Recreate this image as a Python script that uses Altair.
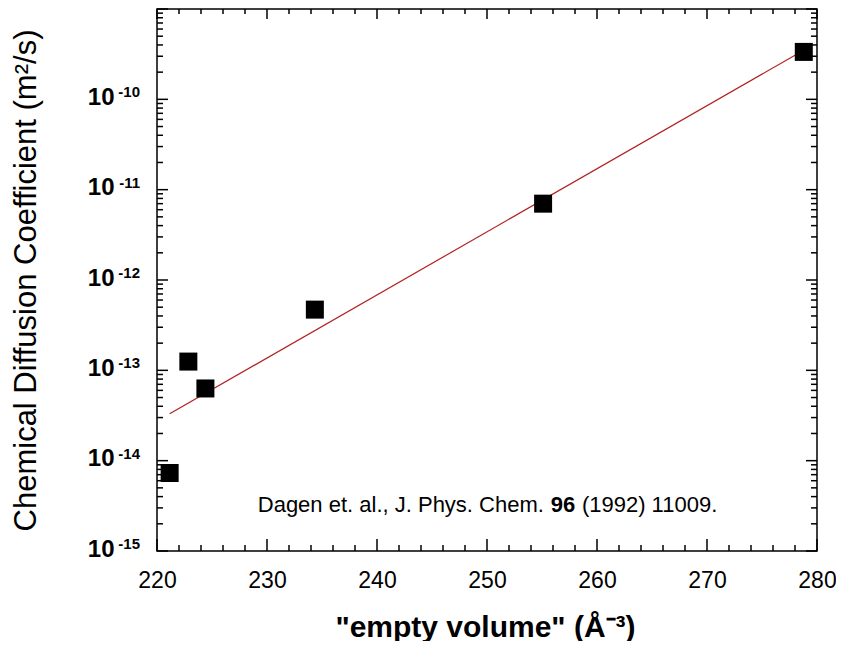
import altair as alt
import pandas as pd

# measured data
volume = [221.15, 222.85, 224.4, 234.35, 255.1, 278.8]
diffusion = [7.3e-15, 1.25e-13, 6.3e-14, 4.7e-13, 7.0e-12, 3.35e-10]

# fitted line endpoints
fit_volume = [221.15, 278.8]
fit_diffusion = [3.3e-14, 3.5e-10]

# axis ticks / labels
x_major = [220, 230, 240, 250, 260, 270, 280]
x_minor = [v for v in range(222, 280, 2) if v % 10 != 0]
decades = [-15, -14, -13, -12, -11, -10, -9]
y_major = [10.0 ** d for d in decades]
y_minor = [m * 10.0 ** d for d in decades[:-1] for m in range(2, 10)]
label_decades = [-15, -14, -13, -12, -11, -10]
label_values = [10.0 ** d for d in label_decades]
exponent_text = ["-15", "-14", "-13", "-12", "-11", "-10"]

# annotation
note_parts = ["Dagen et. al., J. Phys. Chem.", "96", "(1992) 11009."]
note_x = 256.9
note_y = 2.7e-15

FONT = "Liberation Sans"
XS = alt.Scale(domain=[220, 280], nice=False, zero=False)
YS = alt.Scale(type="log", domain=[1e-15, 1e-9], nice=False)

XA = alt.Axis(values=x_major, ticks=False, domain=False, grid=False,
              labelFontSize=23, labelPadding=18, labelColor="black", format="d",
              labelFlush=False, labelFont=FONT, titleFont=FONT,
              title='"empty volume" (Å⁻³)', titleFontSize=30, titleFontWeight="bold",
              titleColor="black", titleX=328, titleY=76, titleBaseline="middle",
              titleAlign="center")
YA = alt.Axis(values=label_values, labelExpr="'10'", ticks=False,
              domain=False, grid=False, labelFontSize=24, labelFontWeight="bold",
              labelPadding=43, labelOffset=-2, labelColor="black", labelFlush=False,
              labelFont=FONT, titleFont=FONT,
              title="Chemical Diffusion Coefficient (m²/s)", titleFontSize=31,
              titleFontWeight="normal", titleColor="black", titleX=-131, titleY=271,
              titleAngle=-90, titleBaseline="middle", titleAlign="center")


def X(field):
    return alt.X(field, type="quantitative", scale=XS, axis=XA)


def Y(field):
    return alt.Y(field, type="quantitative", scale=YS, axis=YA)


pts = pd.DataFrame({"volume": volume, "diffusion": diffusion})
fit = pd.DataFrame({"volume": fit_volume, "diffusion": fit_diffusion})

line = alt.Chart(fit).mark_line(color="#b22222", strokeWidth=1.2).encode(
    x=X("volume"), y=Y("diffusion"))

points = alt.Chart(pts).mark_square(size=324, color="black", filled=True, opacity=1).encode(
    x=X("volume"), y=Y("diffusion"))

exp_df = pd.DataFrame({"v": label_values, "e": exponent_text, "edge": [220] * len(label_values)})
exps = alt.Chart(exp_df).mark_text(
    align="right", baseline="middle", dx=-17, dy=-7, fontSize=15, fontWeight="bold",
    color="black", font=FONT
).encode(y=Y("v"), x=X("edge"), text="e:N")

note_df = pd.DataFrame({"x": [note_x], "y": [note_y]})
note1 = alt.Chart(note_df).mark_text(
    text=note_parts[0], align="right", baseline="alphabetic", dx=-19, fontSize=22,
    color="black", font=FONT
).encode(x=X("x"), y=Y("y"))
note2 = alt.Chart(note_df).mark_text(
    text=note_parts[1], align="center", baseline="alphabetic", fontSize=22, fontWeight="bold",
    color="black", font=FONT
).encode(x=X("x"), y=Y("y"))
note3 = alt.Chart(note_df).mark_text(
    text=note_parts[2], align="left", baseline="alphabetic", dx=19, fontSize=22,
    color="black", font=FONT
).encode(x=X("x"), y=Y("y"))

# inward tick marks drawn as stroked custom symbols (path length = sqrt(size)/2)
UP, DOWN, RIGHT, LEFT = "M0,0L0,-1", "M0,0L0,1", "M0,0L1,0", "M0,0L-1,0"


def edge_ticks(xs, ys, shape, length):
    df = pd.DataFrame({"volume": xs, "diffusion": ys})
    return alt.Chart(df).mark_point(
        shape=shape, size=(2 * length) ** 2, filled=False, color="black",
        strokeWidth=1.5, opacity=1
    ).encode(x=X("volume"), y=Y("diffusion"))


ticks = [
    edge_ticks(x_major, [1e-15] * len(x_major), UP, 12),
    edge_ticks(x_minor, [1e-15] * len(x_minor), UP, 6),
    edge_ticks(x_major, [1e-9] * len(x_major), DOWN, 10),
    edge_ticks(x_minor, [1e-9] * len(x_minor), DOWN, 5),
    edge_ticks([220] * len(y_major), y_major, RIGHT, 11),
    edge_ticks([220] * len(y_minor), y_minor, RIGHT, 6),
    edge_ticks([280] * len(y_major), y_major, LEFT, 11),
    edge_ticks([280] * len(y_minor), y_minor, LEFT, 6),
]

chart = alt.layer(line, points, *ticks, exps, note1, note2, note3).properties(
    width=660, height=542,
    padding={"left": 149, "top": 1, "right": 19, "bottom": 90},
    autosize=alt.AutoSizeParams(type="none"),
    background="white",
).configure_view(stroke="black", strokeWidth=1.5)

chart.save("out.html", embed_options={"renderer": "svg", "actions": False})
